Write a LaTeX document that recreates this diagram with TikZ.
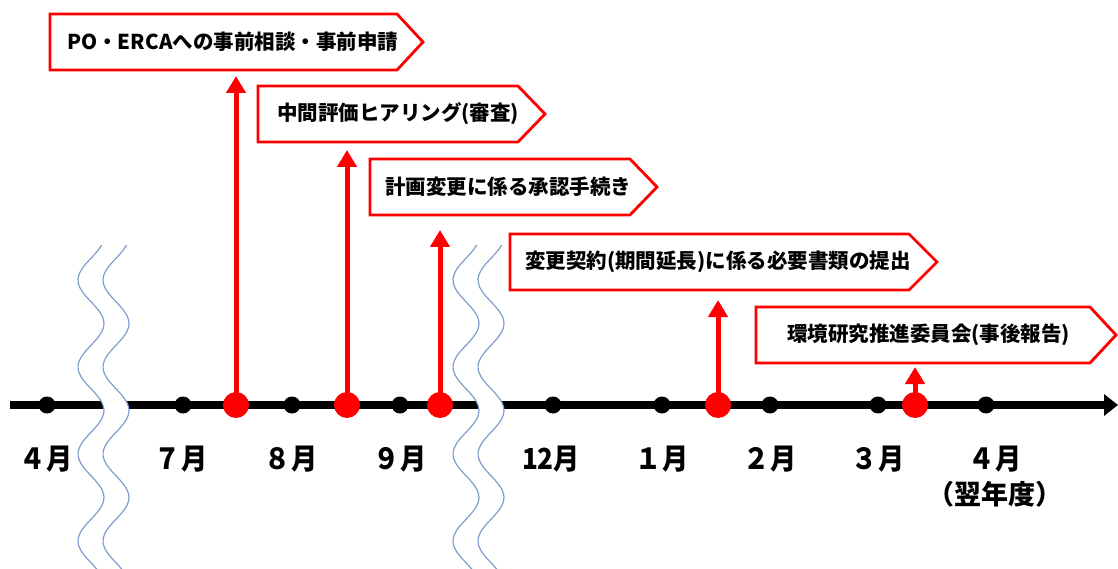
\documentclass[tikz,border=0pt]{standalone}
\usepackage{fontspec}
\newfontfamily\jp{Noto Sans CJK JP}
\newfontfamily\jpn{Noto Sans CJK JP}[FakeStretch=0.9]
\usetikzlibrary{arrows.meta}
\definecolor{wavecol}{RGB}{125,158,205}
\begin{document}
\begin{tikzpicture}[x=1pt,y=-1pt,
  boxstyle/.style={draw=red,line width=2.8pt,fill=white,line join=miter},
  boxtext/.style={anchor=west,inner sep=0pt,font=\jp\bfseries\fontsize{20.5}{24}\selectfont},
  bdot/.style={circle,fill=black,inner sep=0pt,minimum size=17pt},
  rdot/.style={circle,fill=red,inner sep=0pt,minimum size=26pt},
  mlabel/.style={font=\jpn\bfseries\fontsize{29}{32}\selectfont,inner sep=0pt},
  ylabel/.style={font=\jp\bfseries\fontsize{27}{30}\selectfont,inner sep=0pt},
  redarrow/.style={draw=red,line width=5pt,-{Triangle[length=17pt,width=19pt]}},
  timeline/.style={line width=8pt,-{Triangle[length=14pt,width=21pt]}},
  wave/.style={draw=wavecol,line width=1.2pt},
]
\useasboundingbox (0,0) rectangle (1118,569);

% timeline
\coordinate (tl) at (10,405);
\coordinate (tr) at (1118,405);
\draw[timeline] (tl) -- (tr);

% breaks
\foreach \c in {91,466}{
  \fill[white] plot[domain=240:580,samples=90,smooth] ({\c+13*sin(4.138*(\x-301.75))},\x)
    -- plot[domain=580:240,samples=90,smooth] ({\c+25+13*sin(4.138*(\x-301.75))},\x) -- cycle;
  \draw[wave] plot[domain=245:580,samples=90,smooth] ({\c+13*sin(4.138*(\x-301.75))},\x);
  \draw[wave] plot[domain=245:580,samples=90,smooth] ({\c+25+13*sin(4.138*(\x-301.75))},\x);
}

% black dots
\node[bdot] (d4) at (47,405) {};
\node[bdot] (d7) at (183,405) {};
\node[bdot] (d8) at (292,405) {};
\node[bdot] (d9) at (400,405) {};
\node[bdot] (d12) at (553,405) {};
\node[bdot] (d1) at (662,405) {};
\node[bdot] (d2) at (770,405) {};
\node[bdot] (d3) at (878,405) {};
\node[bdot] (d4b) at (986,405) {};

% month labels
\node[mlabel] (l4) at (46,459) {４月};
\node[mlabel] (l7) at (181,459) {７月};
\node[mlabel] (l8) at (291,459) {８月};
\node[mlabel] (l9) at (400,459) {９月};
\node[mlabel] (l12) at (551,459) {12月};
\node[mlabel] (l1) at (662,459) {１月};
\node[mlabel] (l2) at (770,459) {２月};
\node[mlabel] (l3) at (878,459) {３月};
\node[mlabel] (l4b) at (995,459) {４月};
\node[ylabel] (ly) at (995,494) {（翌年度）};

% red arrows
\coordinate (a1) at (236,76);
\coordinate (a2) at (347,150);
\coordinate (a3) at (440,230);
\coordinate (a4) at (718,300);
\coordinate (a5) at (915,367);
\node[rdot] (r1) at (236,405) {};
\node[rdot] (r2) at (347,405) {};
\node[rdot] (r3) at (440,405) {};
\node[rdot] (r4) at (718,405) {};
\node[rdot] (r5) at (915,405) {};
\draw[redarrow] (r1.center) -- (a1);
\draw[redarrow] (r2.center) -- (a2);
\draw[redarrow] (r3.center) -- (a3);
\draw[redarrow] (r4.center) -- (a4);
\draw[redarrow] (r5.center) -- (a5);

% boxes
\draw[boxstyle] (50,14) -- (397,14) -- (423,42) -- (397,70) -- (50,70) -- cycle;
\node[boxtext] (t1) at (67,42) {PO・ERCAへの事前相談・事前申請};
\draw[boxstyle] (258,86) -- (518,86) -- (545,114) -- (518,142) -- (258,142) -- cycle;
\node[boxtext] (t2) at (277,114) {中間評価ヒアリング(審査)};
\draw[boxstyle] (370,159) -- (630,159) -- (657,187) -- (630,215) -- (370,215) -- cycle;
\node[boxtext] (t3) at (385,187) {計画変更に係る承認手続き};
\draw[boxstyle] (510,234) -- (909,234) -- (937,262) -- (909,290) -- (510,290) -- cycle;
\node[boxtext] (t4) at (525,262) {変更契約(期間延長)に係る必要書類の提出};
\draw[boxstyle] (756,307) -- (1090,307) -- (1116,335) -- (1090,363) -- (756,363) -- cycle;
\node[boxtext] (t5) at (787,335) {環境研究推進委員会(事後報告)};
\end{tikzpicture}
\end{document}
